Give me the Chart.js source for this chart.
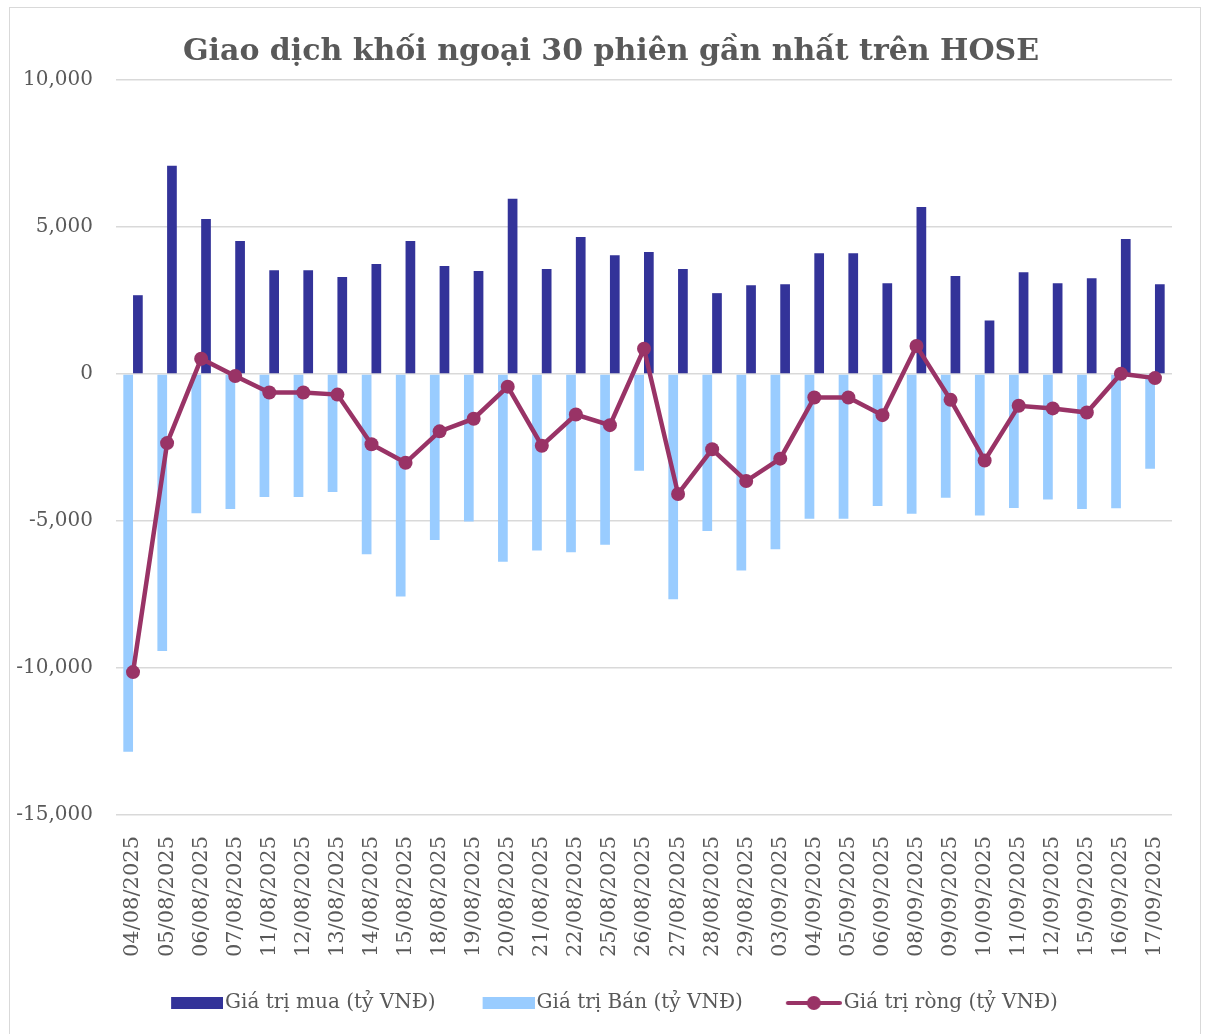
<!DOCTYPE html>
<html>
<head>
<meta charset="utf-8">
<script src="https://cdn.jsdelivr.net/npm/chart.js@4.4.1/dist/chart.umd.min.js"></script>
<style>
  body { margin: 0; background: #fff; }
  #wrap { position: absolute; left: 9px; top: 7px; width: 1190px; height: 1030px; border: 1px solid #d9d9d9; }
  canvas { display: block; }
</style>
</head>
<body>
<div id="wrap"><canvas id="foreignChart" width="1190" height="1030"></canvas></div>
<script>
const sessions = ["04/08/2025", "05/08/2025", "06/08/2025", "07/08/2025", "11/08/2025", "12/08/2025",
  "13/08/2025", "14/08/2025", "15/08/2025", "18/08/2025", "19/08/2025", "20/08/2025", "21/08/2025",
  "22/08/2025", "25/08/2025", "26/08/2025", "27/08/2025", "28/08/2025", "29/08/2025", "03/09/2025",
  "04/09/2025", "05/09/2025", "06/09/2025", "08/09/2025", "09/09/2025", "10/09/2025", "11/09/2025",
  "12/09/2025", "15/09/2025", "16/09/2025", "17/09/2025"];

// ty VND
const buyValues = [2680, 7080, 5270, 4520, 3530, 3530, 3300, 3740, 4520, 3670, 3500, 5960, 3570,
  4660, 4040, 4150, 3570, 2750, 3020, 3050, 4110, 4110, 3090, 5680, 3330, 1820, 3460, 3090, 3260, 4590, 3050];
const sellValues = [-12850, -9420, -4740, -4590, -4180, -4180, -4010, -6130, -7570, -5650, -5020, -6390,
  -6000, -6060, -5810, -3290, -7660, -5340, -6680, -5960, -4920, -4920, -4490, -4750, -4210, -4810,
  -4560, -4270, -4590, -4570, -3220];
const netValues = [-10140, -2350, 520, -70, -630, -630, -700, -2390, -3020, -1950, -1520, -430, -2440,
  -1380, -1740, 860, -4080, -2560, -3640, -2880, -800, -800, -1400, 950, -880, -2940, -1080, -1170,
  -1310, 10, -140];
const yTicks = [-15000, -10000, -5000, 0, 5000, 10000];

const textColor = '#595959';
const buyColor = '#333399';
const sellColor = '#99CCFF';
const netColor = '#993366';

// legend swatches: 87px image, visible part sits at its right end next to the text
function boxSwatch(color) {
    let c = document.createElement('canvas');
    c.width = 87; c.height = 12;
    let g = c.getContext('2d');
    g.fillStyle = color;
    g.fillRect(35, 0, 52, 12);
    return c;
}
function lineSwatch(color) {
    let c = document.createElement('canvas');
    c.width = 87; c.height = 16;
    let g = c.getContext('2d');
    g.strokeStyle = color;
    g.lineWidth = 4;
    g.lineCap = 'round';
    g.beginPath(); g.moveTo(33, 8); g.lineTo(85, 8); g.stroke();
    g.fillStyle = color;
    g.beginPath(); g.arc(59, 8, 7, 0, Math.PI * 2); g.fill();
    return c;
}

// title and legend are centred a bit right of the full canvas width in the original
const nudgeBlocks = {
    id: 'nudgeBlocks',
    afterLayout(chart) {
        chart.titleBlock.left += 40;
        chart.legend.left += 20;
    }
};

let ctx = document.getElementById('foreignChart').getContext('2d');

new Chart(ctx, {
    type: 'bar',
    data: {
        labels: sessions,
        datasets: [
            {
                type: 'line',
                label: 'Giá trị ròng (tỷ VNĐ)',
                data: netValues,
                borderColor: netColor,
                backgroundColor: netColor,
                borderWidth: 4.5,
                pointRadius: 7,
                pointHoverRadius: 7,
                pointBorderWidth: 0,
                pointBackgroundColor: netColor,
                tension: 0,
                clip: false
            },
            {
                label: 'Giá trị Bán (tỷ VNĐ)',
                data: sellValues,
                backgroundColor: sellColor,
                borderWidth: 0
            },
            {
                label: 'Giá trị mua (tỷ VNĐ)',
                data: buyValues,
                backgroundColor: buyColor,
                borderWidth: 0
            }
        ]
    },
    plugins: [nudgeBlocks],
    options: {
        responsive: false,
        animation: false,
        categoryPercentage: 0.57,
        barPercentage: 1.0,
        layout: { padding: { left: 0, right: 28, top: 0, bottom: 15 } },
        plugins: {
            title: {
                display: true,
                text: 'Giao dịch khối ngoại 30 phiên gần nhất trên HOSE',
                color: textColor,
                font: { family: 'DejaVu Serif', size: 30, weight: 'bold' },
                padding: { top: 26, bottom: 10 }
            },
            legend: {
                position: 'bottom',
                labels: {
                    usePointStyle: true,
                    pointStyleWidth: 71,
                    boxHeight: 20,
                    padding: 20,
                    color: textColor,
                    font: { family: 'DejaVu Serif', size: 20 },
                    generateLabels: function (chart) {
                        let sets = chart.data.datasets;
                        return [
                            { text: sets[2].label, datasetIndex: 2, pointStyle: boxSwatch(buyColor), fillStyle: buyColor, strokeStyle: buyColor, lineWidth: 0, hidden: false, fontColor: textColor },
                            { text: sets[1].label, datasetIndex: 1, pointStyle: boxSwatch(sellColor), fillStyle: sellColor, strokeStyle: sellColor, lineWidth: 0, hidden: false, fontColor: textColor },
                            { text: sets[0].label, datasetIndex: 0, pointStyle: lineSwatch(netColor), fillStyle: netColor, strokeStyle: netColor, lineWidth: 0, hidden: false, fontColor: textColor }
                        ];
                    }
                }
            },
            tooltip: { enabled: false }
        },
        scales: {
            x: {
                grid: { display: false },
                border: { display: false },
                ticks: {
                    autoSkip: false,
                    maxRotation: 90,
                    minRotation: 90,
                    padding: 13,
                    color: textColor,
                    font: { family: 'DejaVu Serif', size: 21 }
                },
                afterFit: function (scale) { scale.height = 158; }
            },
            y: {
                min: -15000,
                max: 10000,
                afterBuildTicks: function (scale) { scale.ticks = yTicks.map(v => ({ value: v })); },
                grid: { color: '#d9d9d9', lineWidth: 1.5, drawTicks: false },
                border: { display: false },
                ticks: {
                    padding: 23,
                    color: textColor,
                    font: { family: 'DejaVu Serif', size: 20 },
                    callback: v => v.toLocaleString('en-US')
                },
                afterFit: function (scale) { scale.width = 106; }
            }
        }
    }
});
</script>
</body>
</html>
